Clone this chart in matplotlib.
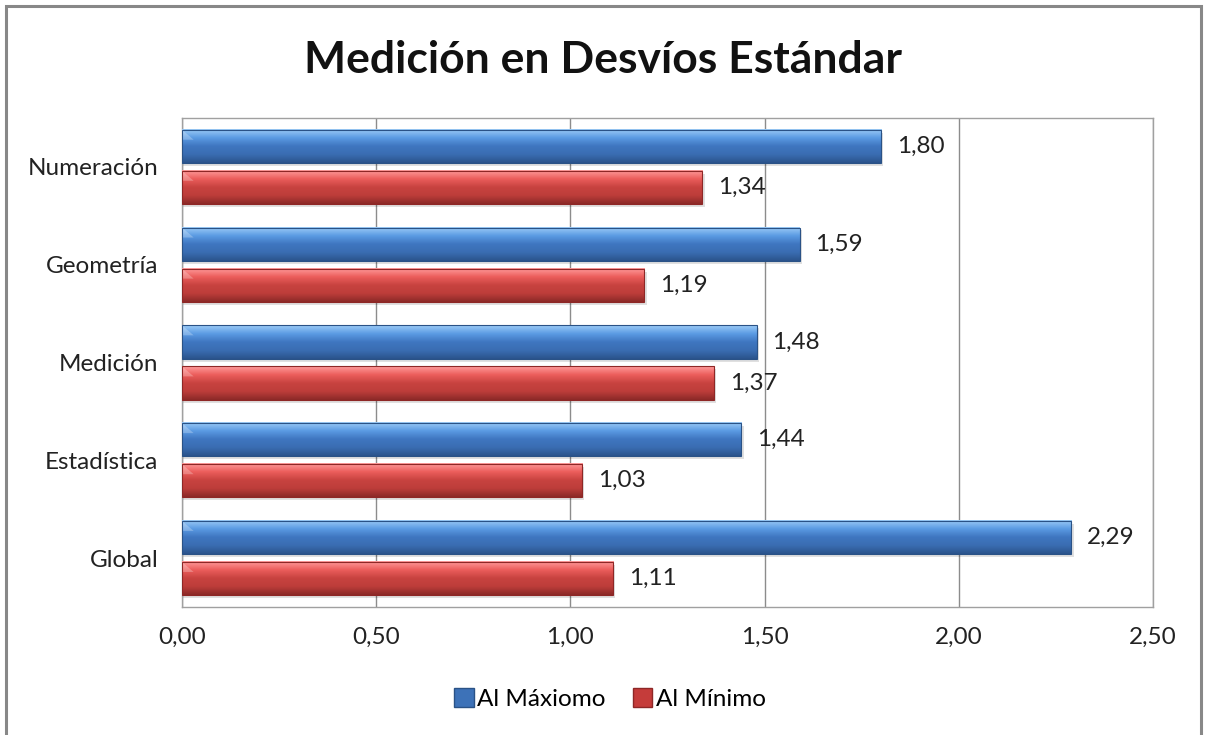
import matplotlib.pyplot as plt
from matplotlib.patches import Rectangle, Polygon
from matplotlib.colors import LinearSegmentedColormap
import numpy as np

plt.rcParams['font.family'] = ['Lato', 'DejaVu Sans']

categorias = ["Numeración", "Geometría", "Medición", "Estadística", "Global"]
al_maximo = [1.80, 1.59, 1.48, 1.44, 2.29]
al_minimo = [1.34, 1.19, 1.37, 1.03, 1.11]
ticks_x = [0.0, 0.5, 1.0, 1.5, 2.0, 2.5]

# degradado de arriba hacia abajo
tonos_azul = ["#9CCBF7", "#5B9BE3", "#3F76C0", "#3A6DB2", "#2B548C"]
tonos_rojo = ["#FF9C9C", "#EC5E5C", "#C84340", "#BD3D3A", "#8C2A28"]
azul = "#3D72B8"
rojo = "#C53C3A"

cmap_azul = LinearSegmentedColormap.from_list("az", tonos_azul)
cmap_rojo = LinearSegmentedColormap.from_list("ro", tonos_rojo)
grad = np.linspace(0, 1, 64).reshape(-1, 1)


def fmt(v):
    return f"{v:.2f}".replace(".", ",")


def barra(ax, y, w, h, cmap, borde):
    # sombra suave bajo la barra
    ax.add_patch(Rectangle((0, y - h / 2 + 0.03), w + 0.006, h, facecolor="#000000",
                           alpha=0.12, linewidth=0, zorder=2))
    ax.imshow(grad, cmap=cmap, aspect="auto", extent=(0, w, y + h / 2, y - h / 2),
              zorder=3, interpolation="bilinear")
    # bisel del extremo izquierdo
    ax.add_patch(Polygon([(0, y - h / 2), (0.03, y - h / 2 + h * 0.3), (0.0, y - h / 2 + h * 0.3)],
                         closed=True, facecolor="white", alpha=0.25, linewidth=0, zorder=4))
    ax.add_patch(Rectangle((0, y - h / 2), w, h, fill=False, edgecolor=borde,
                           linewidth=0.8, zorder=4))


fig = plt.figure(figsize=(12.05, 7.35), dpi=100)
fig.patches.append(Rectangle((6 / 1205, -0.01), 1195 / 1205, 1 - 6 / 735 + 0.01,
                             transform=fig.transFigure, fill=False,
                             edgecolor="#888888", linewidth=2.2))

ax = fig.add_axes([182 / 1205, 1 - 607 / 735, 971 / 1205, 489 / 735])

pos = np.arange(len(categorias))
h = 0.34
d = 0.21
for i in pos:
    barra(ax, i - d, al_maximo[i], h, cmap_azul, "#2A5286")
    barra(ax, i + d, al_minimo[i], h, cmap_rojo, "#8E2726")
    ax.text(al_maximo[i] + 0.04, i - d, fmt(al_maximo[i]), va="center",
            ha="left", fontsize=17.5, color="#222222", zorder=5)
    ax.text(al_minimo[i] + 0.04, i + d, fmt(al_minimo[i]), va="center",
            ha="left", fontsize=17.5, color="#222222", zorder=5)

ax.set_xlim(0, 2.5)
ax.set_ylim(len(categorias) - 0.5, -0.5)
ax.set_xticks(ticks_x)
ax.set_xticklabels([fmt(t) for t in ticks_x], fontsize=17.5)
ax.set_yticks(pos)
ax.set_yticklabels(categorias, fontsize=17.5)
ax.tick_params(axis="both", length=0, colors="#222222")
ax.tick_params(axis="y", pad=17)
ax.tick_params(axis="x", pad=14)
ax.grid(axis="x", color="#8C8C8C", linewidth=1, zorder=0)
ax.set_axisbelow(True)
for s in ax.spines.values():
    s.set_color("#A0A0A0")
    s.set_linewidth(1)

fig.text(0.5, 1 - 60 / 735, "Medición en Desvíos Estándar", ha="center", va="center",
         fontsize=32, fontweight="bold", color="#111111")

handles = [Rectangle((0, 0), 1, 1, facecolor=azul, edgecolor="#2A5286"),
           Rectangle((0, 0), 1, 1, facecolor=rojo, edgecolor="#8E2726")]
fig.legend(handles, ["Al Máxiomo", "Al Mínimo"], loc="center",
           bbox_to_anchor=(610 / 1205, 1 - 699 / 735), ncol=2, frameon=False, fontsize=17.5,
           handlelength=0.8, handleheight=0.8, handletextpad=0.15, columnspacing=1.1)

fig.savefig("out.png", dpi=100)
